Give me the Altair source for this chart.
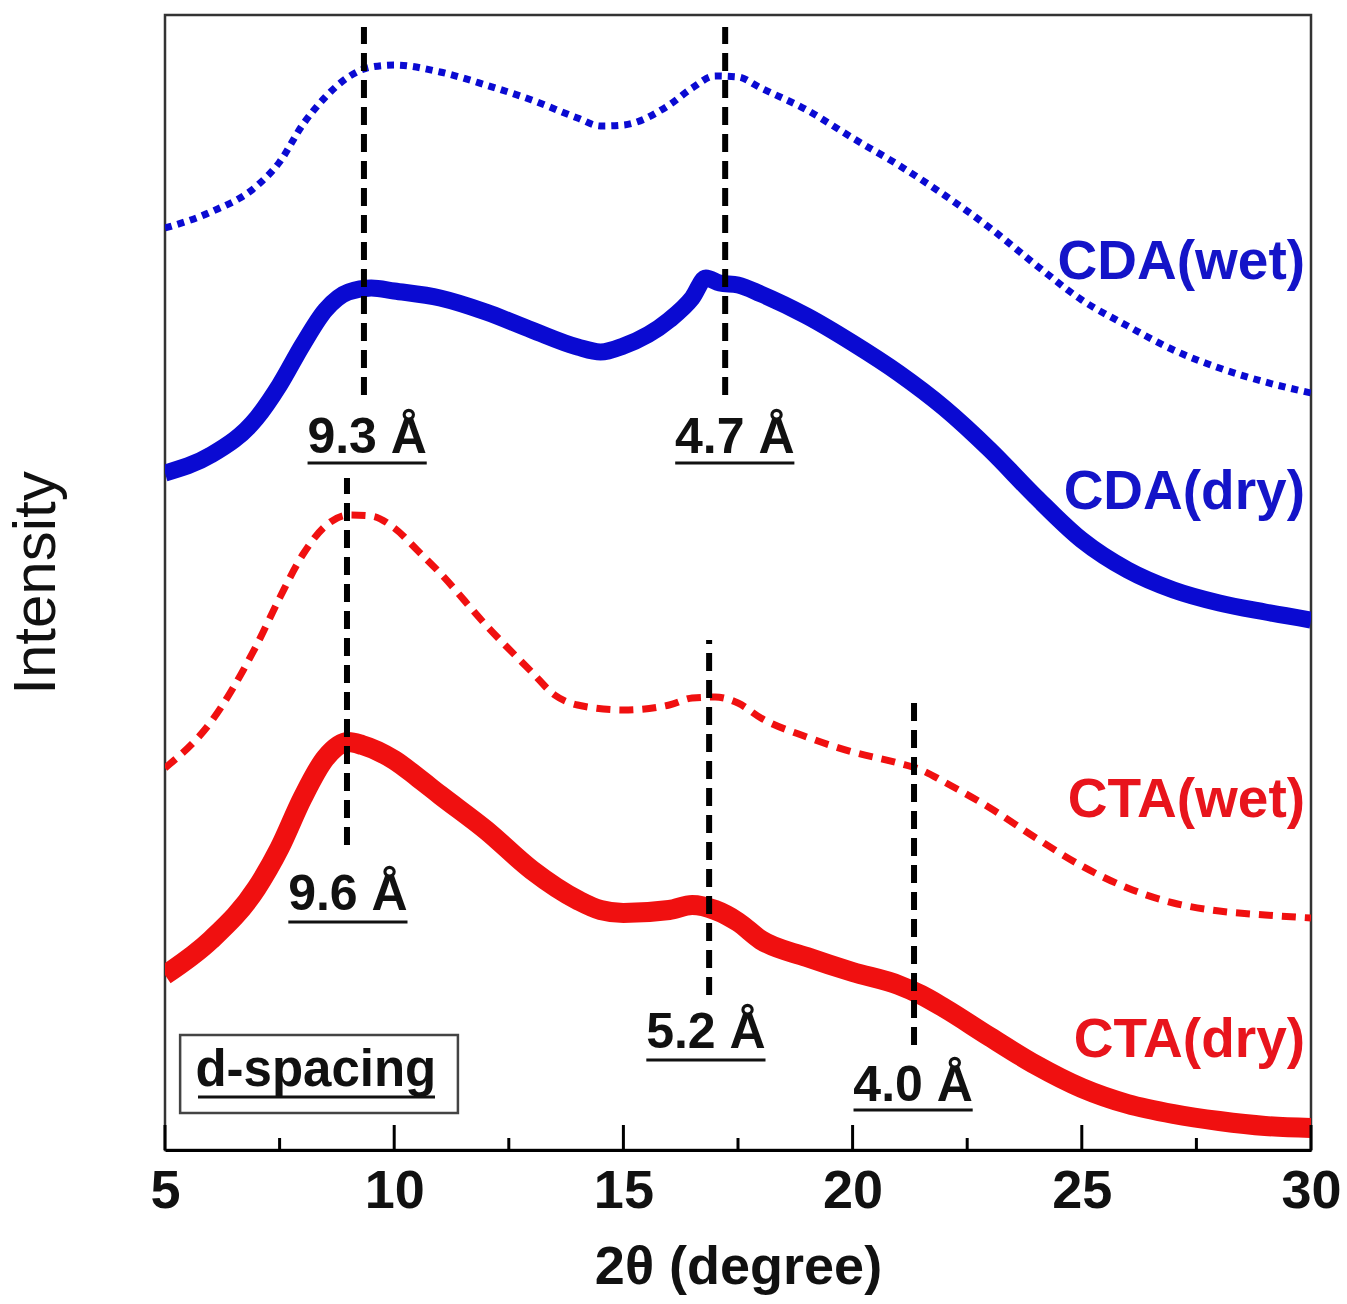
import altair as alt
import pandas as pd

# ---------------- data (intensity in arbitrary units) ----------------
cda_wet_x = [5, 6, 7, 7.5, 8, 8.5, 9, 9.5, 10, 11, 12, 13, 14, 14.5, 15, 16, 16.5, 17, 17.5, 18,
             19, 20, 21, 22, 23, 24, 25, 26, 27, 28, 29, 30]
cda_wet_y = [922, 938, 964, 988, 1025, 1053, 1073, 1083, 1085, 1078, 1065, 1050, 1032, 1024, 1025,
             1045, 1062, 1074, 1073, 1062, 1040, 1012, 985, 955, 922, 885, 850, 824, 800, 782, 768, 757]

cda_dry_x = [5, 6, 7, 7.5, 8, 8.5, 9, 9.5, 10, 11, 12, 13, 14, 14.5, 15, 16, 16.5, 16.8, 17.1, 17.5,
             18, 19, 20, 21, 22, 23, 24, 25, 26, 27, 28, 29, 30]
cda_dry_y = [677, 695, 732, 765, 805, 840, 858, 862, 859, 852, 838, 820, 803, 798, 804, 830, 852, 872,
             867, 865, 856, 834, 807, 777, 742, 700, 653, 610, 580, 560, 547, 538, 530]

cta_wet_x = [5, 6, 7, 7.5, 8, 8.5, 9, 9.5, 10, 10.5, 11, 12, 13, 13.5, 14, 15, 16, 16.5, 17, 17.5,
             18, 19, 20, 21, 21.5, 22, 23, 24, 25, 26, 27, 28, 29, 30]
cta_wet_y = [382, 428, 505, 552, 595, 624, 635, 634, 622, 600, 577, 525, 478, 455, 445, 440, 445, 452,
             453, 447, 432, 413, 398, 387, 380, 368, 342, 312, 284, 262, 247, 239, 235, 232]

cta_dry_x = [5, 6, 7, 7.5, 8, 8.5, 9, 9.3, 10, 10.5, 11, 12, 13, 14, 14.5, 15, 16, 16.5, 17, 17.5,
             18, 19, 20, 21, 21.5, 22, 23, 24, 25, 26, 27, 28, 29, 30]
cta_dry_y = [175, 210, 262, 302, 352, 392, 408, 405, 390, 373, 355, 320, 280, 250, 240, 237, 240, 245,
             240, 228, 210, 193, 178, 165, 155, 142, 113, 85, 62, 46, 36, 29, 24, 22]

# d-spacing markers (position in 2-theta, vertical extent in intensity units)
peak_x = [9.34, 17.22, 8.97, 16.87, 21.34]
peak_y_top = [1123, 1123, 672, 510, 450]
peak_y_bot = [755, 755, 305, 155, 105]

# d-spacing labels
dlabel_text = ["9.3 Å", "4.7 Å", "9.6 Å", "5.2 Å", "4.0 Å"]
dlabel_x = [9.41, 17.43, 8.99, 16.80, 21.32]
dlabel_y = [712, 712, 255, 117, 64]
dlabel_half = [1.3, 1.3, 1.3, 1.3, 1.3]
dlabel_uline = [687, 687, 228, 90, 40]

# series labels
series_text = ["CDA(wet)", "CDA(dry)", "CTA(wet)", "CTA(dry)"]
series_y = [888, 658, 350, 110]
series_color = ["#1414c8", "#1414c8", "#e8141c", "#e8141c"]

# d-spacing box
box_text = "d-spacing"
box_x = [5.33, 11.39]
box_y = [37, 115]
box_text_x = 8.29
box_text_y = 79
box_uline_x = [5.72, 10.89]
box_uline_y = 53

major_ticks = [5, 10, 15, 20, 25, 30]
minor_ticks = [7.5, 12.5, 17.5, 22.5, 27.5]
major_len = 25
minor_len = 12

FONT = "Liberation Sans"
BLUE = "#0a0ad2"
RED = "#f01010"

# ---------------- encodings ----------------
xscale = alt.Scale(domain=[5, 30], nice=False, zero=False)
yscale = alt.Scale(domain=[0, 1135], nice=False, zero=False)
xaxis = alt.Axis(values=major_ticks, title="2θ (degree)")
yaxis = alt.Axis(title="Intensity")


def X(f="x"):
    return alt.X(f"{f}:Q", scale=xscale, axis=xaxis)


def Y(f="y"):
    return alt.Y(f"{f}:Q", scale=yscale, axis=yaxis)


def curve(xs, ys, color, width, dash=None):
    df = pd.DataFrame({"x": xs, "y": ys})
    kw = dict(color=color, strokeWidth=width, interpolate="monotone", clip=True)
    if dash is not None:
        kw["strokeDash"] = dash
    return alt.Chart(df).mark_line(**kw).encode(x=X(), y=Y())


layers = []
layers.append(curve(cda_wet_x, cda_wet_y, BLUE, 7, [7, 6]))
layers.append(curve(cda_dry_x, cda_dry_y, BLUE, 17))
layers.append(curve(cta_wet_x, cta_wet_y, RED, 7, [14, 9]))
layers.append(curve(cta_dry_x, cta_dry_y, RED, 20))

# vertical dashed markers
vdf = pd.DataFrame({"x": peak_x, "y": peak_y_bot, "y2": peak_y_top})
layers.append(alt.Chart(vdf).mark_rule(color="black", strokeWidth=6, strokeDash=[18, 9]).encode(
    x=X(), y=Y(), y2="y2:Q"))

# d-spacing labels
ldf = pd.DataFrame({"x": dlabel_x, "y": dlabel_y, "t": dlabel_text})
layers.append(alt.Chart(ldf).mark_text(font=FONT, fontSize=50, fontWeight="bold", color="#111",
                                       align="center", baseline="middle").encode(
    x=X(), y=Y(), text="t:N"))
udf = pd.DataFrame({"x": [a - h for a, h in zip(dlabel_x, dlabel_half)],
                    "x2": [a + h for a, h in zip(dlabel_x, dlabel_half)],
                    "y": dlabel_uline})
layers.append(alt.Chart(udf).mark_rule(color="#111", strokeWidth=3).encode(x=X(), x2="x2:Q", y=Y()))

# series labels
sdf = pd.DataFrame({"x": [29.87] * 4, "y": series_y, "t": series_text, "c": series_color})
layers.append(alt.Chart(sdf).mark_text(font=FONT, fontSize=55, fontWeight="bold", align="right",
                                       baseline="middle").encode(
    x=X(), y=Y(), text="t:N", color=alt.Color("c:N", scale=None)))

# d-spacing box
bdf = pd.DataFrame({"x": [box_x[0]], "x2": [box_x[1]], "y": [box_y[0]], "y2": [box_y[1]]})
layers.append(alt.Chart(bdf).mark_rect(fill="white", stroke="#444", strokeWidth=2.5).encode(
    x=X(), x2="x2:Q", y=Y(), y2="y2:Q"))
btdf = pd.DataFrame({"x": [box_text_x], "y": [box_text_y], "t": [box_text]})
layers.append(alt.Chart(btdf).mark_text(font=FONT, fontSize=51, fontWeight="bold", color="#111",
                                        align="center", baseline="middle").encode(
    x=X(), y=Y(), text="t:N"))
budf = pd.DataFrame({"x": [box_uline_x[0]], "x2": [box_uline_x[1]], "y": [box_uline_y]})
layers.append(alt.Chart(budf).mark_rule(color="#111", strokeWidth=3).encode(x=X(), x2="x2:Q", y=Y()))

# inward ticks
tdf = pd.DataFrame({"x": major_ticks + minor_ticks,
                    "y": [0] * (len(major_ticks) + len(minor_ticks)),
                    "y2": [major_len] * len(major_ticks) + [minor_len] * len(minor_ticks)})
layers.append(alt.Chart(tdf).mark_rule(color="black", strokeWidth=3).encode(x=X(), y=Y(), y2="y2:Q"))

chart = alt.layer(*layers).properties(
    width=1146, height=1135,
    padding={"left": 165, "top": 15, "right": 36, "bottom": 154},
    autosize=alt.AutoSizeParams(type="none"),
    background="white",
).configure_view(
    stroke="#333", strokeWidth=2.5
).configure_axisX(
    grid=False, ticks=False, domainColor="black", domainWidth=3,
    labelFont=FONT, labelFontSize=54, labelFontWeight="bold", labelColor="#111",
    labelPadding=14, labelFlush=False,
    titleFont=FONT, titleFontSize=54, titleFontWeight="bold", titleColor="#111", titlePadding=22,
).configure_axisY(
    grid=False, ticks=False, labels=False, domain=False,
    titleFont=FONT, titleFontSize=60, titleFontWeight="normal", titleColor="#111", titlePadding=98,
)

chart.save("out.html", embed_options={"renderer": "svg", "actions": False})
